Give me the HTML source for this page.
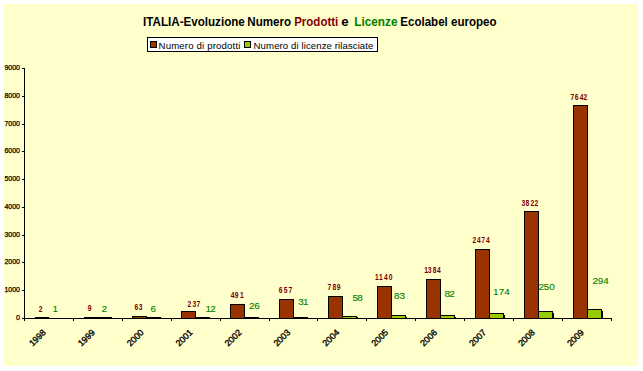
<!DOCTYPE html>
<html><head><meta charset="utf-8"><style>
html,body{margin:0;padding:0;background:#fff;width:643px;height:371px;overflow:hidden;}
svg{display:block;font-family:"Liberation Sans",sans-serif;}
</style></head><body><svg width="643" height="371" viewBox="0 0 643 371"><rect x="4" y="4" width="634" height="362" fill="#FFFFCC"/><g font-family="Liberation Sans" font-weight="bold" font-size="12.3"><text x="143.1" y="25.7" fill="#000" textLength="101.7" lengthAdjust="spacingAndGlyphs">ITALIA-Evoluzione</text><text x="247.3" y="25.7" fill="#000" textLength="43.8" lengthAdjust="spacingAndGlyphs">Numero</text><text x="294.2" y="25.7" fill="#800000" textLength="44.1" lengthAdjust="spacingAndGlyphs">Prodotti</text><text x="341.2" y="25.7" fill="#000" textLength="7.4" lengthAdjust="spacingAndGlyphs">e</text><text x="354.3" y="25.7" fill="#008000" textLength="43.2" lengthAdjust="spacingAndGlyphs">Licenze</text><text x="400.3" y="25.7" fill="#000" textLength="96.2" lengthAdjust="spacingAndGlyphs">Ecolabel europeo</text></g><rect x="147.5" y="37.5" width="230" height="14" fill="#fff" stroke="#000" stroke-width="1"/><rect x="150.5" y="41.5" width="6" height="6" fill="#993300" stroke="#000" stroke-width="1"/><rect x="244.5" y="41.5" width="6" height="6" fill="#99CC00" stroke="#000" stroke-width="1"/><g font-family="Liberation Sans" font-size="9.6" fill="#000"><text x="158.6" y="49" textLength="81.8" lengthAdjust="spacing">Numero di prodotti</text><text x="253.6" y="49" textLength="119.8" lengthAdjust="spacing">Numero di licenze rilasciate</text></g><path d="M24.5 68V318.5M24 318.5H611.5" stroke="#000" stroke-width="1" fill="none"/><path d="M22 318.5H24M22 290.5H24M22 262.5H24M22 235.5H24M22 207.5H24M22 179.5H24M22 151.5H24M22 124.5H24M22 96.5H24M22 68.5H24M24.5 318V321M73.5 318V321M122.5 318V321M171.5 318V321M220.5 318V321M269.5 318V321M317.5 318V321M366.5 318V321M415.5 318V321M464.5 318V321M513.5 318V321M562.5 318V321M611.5 318V321" stroke="#000" stroke-width="1"/><g font-family="Liberation Sans" font-size="7" fill="#000" stroke="#000" stroke-width="0.25"><text x="20" y="320" text-anchor="end">0</text><text x="20" y="292" text-anchor="end">1000</text><text x="20" y="264" text-anchor="end">2000</text><text x="20" y="237" text-anchor="end">3000</text><text x="20" y="209" text-anchor="end">4000</text><text x="20" y="181" text-anchor="end">5000</text><text x="20" y="153" text-anchor="end">6000</text><text x="20" y="126" text-anchor="end">7000</text><text x="20" y="98" text-anchor="end">8000</text><text x="20" y="70" text-anchor="end">9000</text></g><g shape-rendering="crispEdges"><rect x="35" y="317" width="14" height="2" fill="#000"/><rect x="84" y="317" width="28" height="2" fill="#000"/><rect x="132" y="316" width="15" height="3" fill="#000"/><rect x="133" y="317" width="13" height="1" fill="#993300"/><rect x="146" y="317" width="15" height="2" fill="#000"/><rect x="181" y="311" width="15" height="8" fill="#000"/><rect x="182" y="312" width="13" height="6" fill="#993300"/><rect x="195" y="317" width="15" height="2" fill="#000"/><rect x="230" y="304" width="15" height="15" fill="#000"/><rect x="231" y="305" width="13" height="13" fill="#993300"/><rect x="244" y="317" width="15" height="2" fill="#000"/><rect x="279" y="299" width="15" height="20" fill="#000"/><rect x="280" y="300" width="13" height="18" fill="#993300"/><rect x="293" y="317" width="15" height="2" fill="#000"/><rect x="328" y="296" width="15" height="23" fill="#000"/><rect x="329" y="297" width="13" height="21" fill="#993300"/><rect x="342" y="316" width="15" height="3" fill="#000"/><rect x="343" y="317" width="13" height="1" fill="#99CC00"/><rect x="357" y="317" width="1" height="1" fill="#000"/><rect x="377" y="286" width="15" height="33" fill="#000"/><rect x="378" y="287" width="13" height="31" fill="#993300"/><rect x="391" y="315" width="15" height="4" fill="#000"/><rect x="392" y="316" width="13" height="2" fill="#99CC00"/><rect x="406" y="317" width="1" height="1" fill="#000"/><rect x="426" y="279" width="15" height="40" fill="#000"/><rect x="427" y="280" width="13" height="38" fill="#993300"/><rect x="440" y="315" width="15" height="4" fill="#000"/><rect x="441" y="316" width="13" height="2" fill="#99CC00"/><rect x="455" y="317" width="1" height="1" fill="#000"/><rect x="475" y="249" width="15" height="70" fill="#000"/><rect x="476" y="250" width="13" height="68" fill="#993300"/><rect x="489" y="313" width="15" height="6" fill="#000"/><rect x="490" y="314" width="13" height="4" fill="#99CC00"/><rect x="504" y="315" width="1" height="3" fill="#000"/><rect x="524" y="211" width="15" height="108" fill="#000"/><rect x="525" y="212" width="13" height="106" fill="#993300"/><rect x="538" y="311" width="15" height="8" fill="#000"/><rect x="539" y="312" width="13" height="6" fill="#99CC00"/><rect x="553" y="313" width="1" height="5" fill="#000"/><rect x="573" y="105" width="15" height="214" fill="#000"/><rect x="574" y="106" width="13" height="212" fill="#993300"/><rect x="587" y="309" width="15" height="10" fill="#000"/><rect x="588" y="310" width="13" height="8" fill="#99CC00"/><rect x="602" y="311" width="1" height="7" fill="#000"/></g><g font-family="Liberation Sans" font-weight="bold" font-size="8.4" fill="#800000" text-anchor="middle"><text transform="translate(40.50,312) scale(0.8,1)">2</text><text transform="translate(89.50,311) scale(0.8,1)">9</text><text transform="translate(136.45,310) scale(0.8,1)">6</text><text transform="translate(140.70,310) scale(0.8,1)">3</text><text transform="translate(189.45,307) scale(0.8,1)">2</text><text transform="translate(194.30,307) scale(0.8,1)">3</text><text transform="translate(198.40,307) scale(0.8,1)">7</text><text transform="translate(232.60,298) scale(0.8,1)">4</text><text transform="translate(236.50,298) scale(0.8,1)">9</text><text transform="translate(241.95,298) scale(0.8,1)">1</text><text transform="translate(280.55,293) scale(0.8,1)">6</text><text transform="translate(285.65,293) scale(0.8,1)">5</text><text transform="translate(290.40,293) scale(0.8,1)">7</text><text transform="translate(329.40,290) scale(0.8,1)">7</text><text transform="translate(334.40,290) scale(0.8,1)">8</text><text transform="translate(338.50,290) scale(0.8,1)">9</text><text transform="translate(376.80,280) scale(0.8,1)">1</text><text transform="translate(380.85,280) scale(0.8,1)">1</text><text transform="translate(385.95,280) scale(0.8,1)">4</text><text transform="translate(390.50,280) scale(0.8,1)">0</text><text transform="translate(426.05,273) scale(0.8,1)">1</text><text transform="translate(429.50,273) scale(0.8,1)">3</text><text transform="translate(434.50,273) scale(0.8,1)">8</text><text transform="translate(438.90,273) scale(0.8,1)">4</text><text transform="translate(474.40,243) scale(0.8,1)">2</text><text transform="translate(478.85,243) scale(0.8,1)">4</text><text transform="translate(483.00,243) scale(0.8,1)">7</text><text transform="translate(487.80,243) scale(0.8,1)">4</text><text transform="translate(523.40,206) scale(0.8,1)">3</text><text transform="translate(527.40,206) scale(0.8,1)">8</text><text transform="translate(532.30,206) scale(0.8,1)">2</text><text transform="translate(536.40,206) scale(0.8,1)">2</text><text transform="translate(572.30,100) scale(0.8,1)">7</text><text transform="translate(576.70,100) scale(0.8,1)">6</text><text transform="translate(581.50,100) scale(0.8,1)">4</text><text transform="translate(585.45,100) scale(0.8,1)">2</text></g><g font-family="Liberation Sans" font-size="9.9" fill="#008000" stroke="#008000" stroke-width="0.12"><text x="52.5" y="312.0" textLength="4.2" lengthAdjust="spacing">1</text><text x="101.5" y="312.0" textLength="5.2" lengthAdjust="spacing">2</text><text x="150.5" y="312.0" textLength="5.2" lengthAdjust="spacing">6</text><text x="205.5" y="312.0" textLength="10.2" lengthAdjust="spacing">12</text><text x="249.1" y="309.0" textLength="10.6" lengthAdjust="spacing">26</text><text x="298.2" y="305.0" textLength="10.3" lengthAdjust="spacing">31</text><text x="352.5" y="301.0" textLength="10.2" lengthAdjust="spacing">58</text><text x="394.1" y="299.0" textLength="10.9" lengthAdjust="spacing">83</text><text x="444.5" y="296.5" textLength="10.2" lengthAdjust="spacing">82</text><text x="493.1" y="295.0" textLength="16.6" lengthAdjust="spacing">174</text><text x="538.5" y="290.0" textLength="16.2" lengthAdjust="spacing">250</text><text x="592.5" y="284.0" textLength="16.2" lengthAdjust="spacing">294</text></g><g font-family="Liberation Sans" font-size="8.8" fill="#000" stroke="#000" stroke-width="0.35"><text transform="translate(46.5,333.0) rotate(-45)" text-anchor="end">1998</text><text transform="translate(95.4,333.0) rotate(-45)" text-anchor="end">1999</text><text transform="translate(144.3,333.0) rotate(-45)" text-anchor="end">2000</text><text transform="translate(193.2,333.0) rotate(-45)" text-anchor="end">2001</text><text transform="translate(242.1,333.0) rotate(-45)" text-anchor="end">2002</text><text transform="translate(291.0,333.0) rotate(-45)" text-anchor="end">2003</text><text transform="translate(339.9,333.0) rotate(-45)" text-anchor="end">2004</text><text transform="translate(388.8,333.0) rotate(-45)" text-anchor="end">2005</text><text transform="translate(437.7,333.0) rotate(-45)" text-anchor="end">2006</text><text transform="translate(486.6,333.0) rotate(-45)" text-anchor="end">2007</text><text transform="translate(535.5,333.0) rotate(-45)" text-anchor="end">2008</text><text transform="translate(584.5,333.0) rotate(-45)" text-anchor="end">2009</text></g></svg></body></html>
